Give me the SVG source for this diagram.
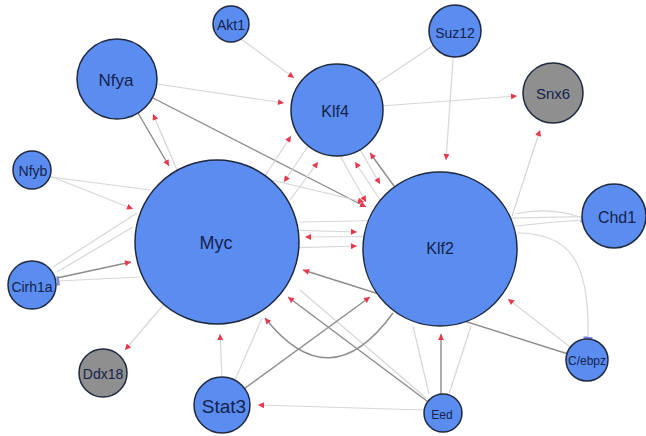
<svg xmlns="http://www.w3.org/2000/svg" width="646" height="436" viewBox="0 0 646 436">
<defs>
<style>
.l{stroke:#d6d6d6;stroke-width:1.2;fill:none}
.d{stroke:#8c8c8c;stroke-width:1.4;fill:none}
.a{marker-end:url(#arr)}
.t{marker-end:url(#tee)}
.n circle{stroke:#1f2940;stroke-width:1.5}
.b{fill:#5b8df0}
.g{fill:#8f8f8f}
text{font-family:"Liberation Sans",Arial,sans-serif;fill:#15224c;text-anchor:middle}
</style>
<marker id="arr" viewBox="0 0 10 10" refX="10" refY="5" markerWidth="8" markerHeight="6" orient="auto" markerUnits="userSpaceOnUse"><path d="M0,0 L10,5 L0,10 z" fill="#e8364a"/></marker>
<marker id="tee" viewBox="0 0 4 12" refX="2" refY="6" markerWidth="3" markerHeight="10" orient="auto" markerUnits="userSpaceOnUse"><rect x="0" y="0" width="4" height="12" fill="#7f86e0"/></marker>
</defs>
<rect width="646" height="436" fill="#ffffff"/>
<g id="edges">
<path class="l a" d="M241,39 L294,78"/>
<path class="l a" d="M157,84 L284,103"/>
<path class="l a" d="M177,170 L153,114"/>
<path class="d a" d="M138,113 L169,166"/>
<path class="d a" d="M153,98 L366,207"/>
<path class="l a" d="M265,176 L291,136"/>
<path class="l a" d="M290,200 L318,162"/>
<path class="l a" d="M312,140 L284,182"/>
<path class="l a" d="M410,245 L355,162"/>
<path class="d a" d="M440,249 L370,153"/>
<path class="l a" d="M337,110 L380,184"/>
<path class="l a" d="M320,120 L366,202"/>
<path class="l a" d="M250,175 L364,202"/>
<path class="l a" d="M440,236 L305,237"/>
<path class="l a" d="M217,228 L357,232"/>
<path class="l a" d="M217,250 L357,246"/>
<path class="l" d="M614,216 L300,222"/>
<path class="d a" d="M587,360 L303,270"/>
<path class="d a" d="M443,413 L288,297"/>
<path class="l" d="M426,398 L300,290"/>
<path class="d a" d="M222,405 L370,297"/>
<path class="d a" d="M393,313 Q330,400 265,318"/>
<path class="l a" d="M222,377 L220,334"/>
<path class="l" d="M235,380 L262,318"/>
<path class="l a" d="M424,410 L258,405"/>
<path class="d a" d="M441,395 L441,334"/>
<path class="l" d="M429,394 L413,326"/>
<path class="l" d="M449,394 L471,326"/>
<path class="l a" d="M587,360 L508,299"/>
<path class="l t" d="M515,214 Q550,206 583,218"/>
<path class="l" d="M516,226 Q550,222 583,220"/>
<path class="l t" d="M517,233 C570,233 590,262 588,338"/>
<path class="l t" d="M140,277 L58,281"/>
<path class="d a" d="M57,278 L131,262"/>
<path class="l" d="M53,267 L137,213"/>
<path class="l" d="M57,272 L133,227"/>
<path class="l a" d="M50,176 L133,209"/>
<path class="l" d="M51,177 L150,190"/>
<path class="l a" d="M217,242 L125,350"/>
<path class="l a" d="M380,106 L517,96"/>
<path class="l a" d="M455,31 L446,160"/>
<path class="l" d="M455,31 L337,110"/>
<path class="l a" d="M512,216 L540,130"/>
</g>
<g id="Akt1" class="n"><circle class="b" cx="231" cy="24" r="18"/><text x="231" y="30" font-size="14">Akt1</text></g>
<g id="Suz12" class="n"><circle class="b" cx="455" cy="31" r="26"/><text x="455" y="38" font-size="14">Suz12</text></g>
<g id="Nfya" class="n"><circle class="b" cx="117" cy="79" r="40"/><text x="116" y="86" font-size="17">Nfya</text></g>
<g id="Klf4" class="n"><circle class="b" cx="337" cy="110" r="46"/><text x="335" y="117" font-size="16">Klf4</text></g>
<g id="Snx6" class="n"><circle class="g" cx="553" cy="93" r="30"/><text x="553" y="99" font-size="15">Snx6</text></g>
<g id="Nfyb" class="n"><circle class="b" cx="32" cy="170" r="19"/><text x="33" y="176" font-size="14">Nfyb</text></g>
<g id="Myc" class="n"><circle class="b" cx="217" cy="242" r="82"/><text x="216" y="249" font-size="18">Myc</text></g>
<g id="Klf2" class="n"><circle class="b" cx="440" cy="249" r="77"/><text x="440" y="254" font-size="16">Klf2</text></g>
<g id="Chd1" class="n"><circle class="b" cx="614" cy="216" r="32"/><text x="617" y="223" font-size="16">Chd1</text></g>
<g id="Cirh1a" class="n"><circle class="b" cx="32" cy="285" r="24"/><text x="32" y="292" font-size="14">Cirh1a</text></g>
<g id="Ddx18" class="n"><circle class="g" cx="103" cy="373" r="24"/><text x="103" y="379" font-size="14">Ddx18</text></g>
<g id="Stat3" class="n"><circle class="b" cx="222" cy="405" r="28"/><text x="224" y="413" font-size="19">Stat3</text></g>
<g id="Eed" class="n"><circle class="b" cx="443" cy="413" r="19"/><text x="442" y="419" font-size="12">Eed</text></g>
<g id="C_ebpz" class="n"><circle class="b" cx="587" cy="360" r="21"/><text x="587" y="365" font-size="12">C/ebpz</text></g>
</svg>
